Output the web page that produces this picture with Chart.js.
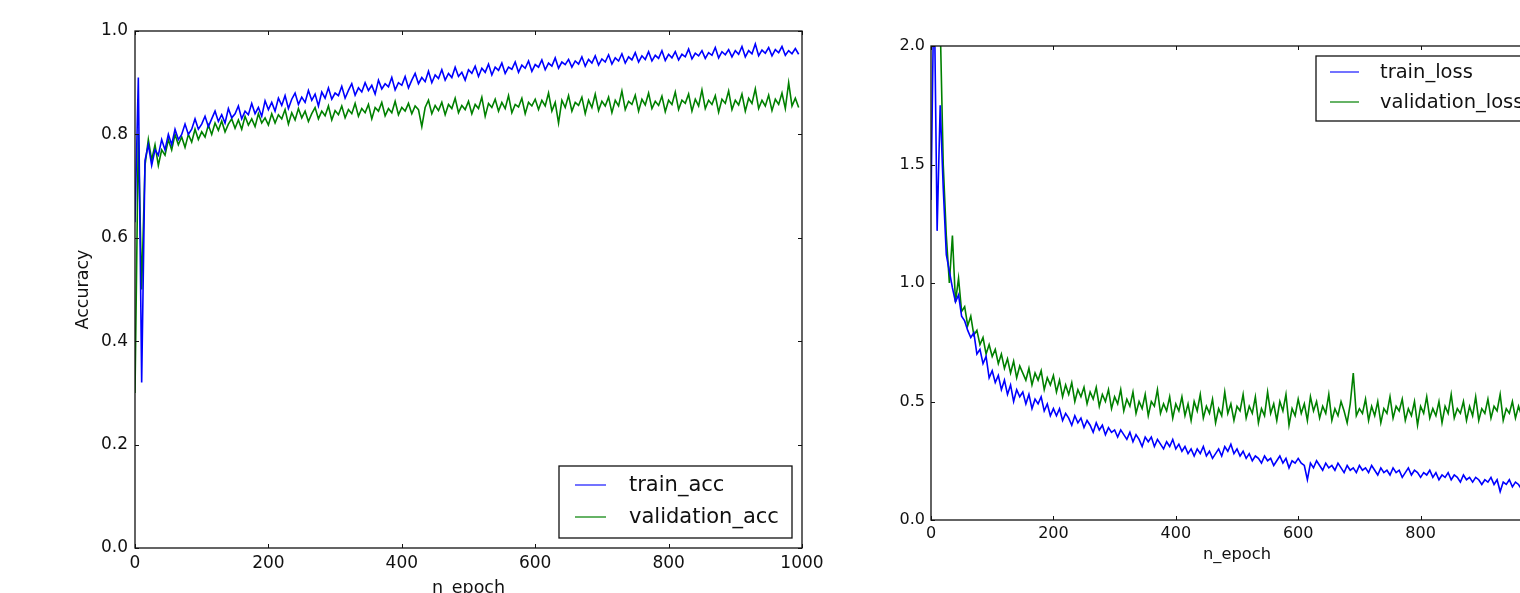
<!DOCTYPE html>
<html>
<head>
<meta charset="utf-8">
<script src="https://cdn.jsdelivr.net/npm/chart.js@4.4.0/dist/chart.umd.min.js"></script>
<style>
  html, body { margin: 0; padding: 0; background: #fff; width: 1520px; height: 593px; overflow: hidden; }
  canvas { position: absolute; top: 0; }
  #accChart { left: 0; }
  #lossChart { left: 860px; }
</style>
</head>
<body>
<canvas id="accChart" width="860" height="610"></canvas>
<canvas id="lossChart" width="740" height="610"></canvas>
<script>
// one value every 5 epochs
var EPOCH_STEP = 5;

var TRAIN_ACC = [
  0.63,0.91,0.32,0.75,0.78,0.74,0.77,0.76,0.79,0.77,
  0.80,0.78,0.81,0.79,0.80,0.82,0.80,0.81,0.83,0.81,
  0.82,0.835,0.815,0.83,0.845,0.825,0.838,0.822,0.85,0.832,
  0.84,0.855,0.83,0.845,0.838,0.86,0.84,0.852,0.835,0.865,
  0.848,0.862,0.845,0.87,0.856,0.875,0.85,0.868,0.88,0.858,
  0.872,0.862,0.885,0.866,0.878,0.855,0.882,0.87,0.89,0.868,
  0.88,0.875,0.893,0.87,0.885,0.898,0.876,0.89,0.882,0.9,
  0.885,0.895,0.878,0.905,0.888,0.898,0.892,0.91,0.886,0.9,
  0.895,0.912,0.89,0.905,0.918,0.898,0.91,0.902,0.922,0.9,
  0.915,0.908,0.925,0.905,0.918,0.91,0.93,0.912,0.92,0.905,
  0.925,0.918,0.932,0.912,0.928,0.92,0.936,0.915,0.93,0.924,
  0.938,0.918,0.93,0.926,0.94,0.92,0.934,0.928,0.942,0.922,
  0.935,0.93,0.944,0.925,0.938,0.932,0.948,0.928,0.94,0.935,
  0.945,0.93,0.942,0.936,0.95,0.932,0.945,0.938,0.952,0.934,
  0.946,0.94,0.954,0.936,0.948,0.942,0.956,0.938,0.95,0.944,
  0.958,0.94,0.952,0.945,0.96,0.942,0.953,0.947,0.962,0.943,
  0.955,0.948,0.96,0.944,0.955,0.95,0.965,0.946,0.957,0.952,
  0.962,0.947,0.958,0.953,0.968,0.948,0.96,0.954,0.964,0.95,
  0.962,0.955,0.97,0.95,0.962,0.956,0.975,0.952,0.963,0.957,
  0.968,0.952,0.964,0.958,0.97,0.953,0.962,0.956,0.966,0.955
];

var VAL_ACC = [
  0.30,0.80,0.50,0.74,0.79,0.75,0.78,0.74,0.77,0.76,
  0.79,0.77,0.80,0.78,0.795,0.775,0.80,0.785,0.81,0.79,
  0.805,0.795,0.818,0.80,0.822,0.808,0.826,0.805,0.82,0.83,
  0.812,0.828,0.81,0.835,0.818,0.83,0.815,0.84,0.822,0.832,
  0.818,0.84,0.822,0.838,0.83,0.848,0.82,0.842,0.828,0.85,
  0.832,0.845,0.825,0.84,0.852,0.83,0.845,0.836,0.855,0.828,
  0.846,0.838,0.855,0.832,0.848,0.84,0.86,0.835,0.85,0.842,
  0.858,0.83,0.852,0.845,0.862,0.836,0.85,0.842,0.864,0.838,
  0.852,0.845,0.86,0.84,0.855,0.848,0.815,0.852,0.866,0.84,
  0.856,0.846,0.862,0.838,0.858,0.85,0.87,0.842,0.856,0.848,
  0.864,0.84,0.858,0.85,0.872,0.835,0.86,0.852,0.868,0.845,
  0.862,0.85,0.875,0.842,0.858,0.853,0.87,0.84,0.862,0.855,
  0.868,0.848,0.866,0.855,0.88,0.845,0.862,0.822,0.866,0.852,
  0.875,0.845,0.862,0.856,0.872,0.84,0.866,0.852,0.878,0.846,
  0.864,0.855,0.872,0.842,0.866,0.855,0.884,0.848,0.864,0.858,
  0.876,0.845,0.868,0.857,0.88,0.85,0.864,0.856,0.874,0.844,
  0.866,0.858,0.882,0.848,0.866,0.86,0.878,0.845,0.868,0.855,
  0.886,0.85,0.866,0.858,0.875,0.843,0.868,0.86,0.884,0.848,
  0.866,0.857,0.878,0.845,0.87,0.86,0.888,0.85,0.866,0.855,
  0.876,0.846,0.868,0.858,0.88,0.85,0.9,0.855,0.87,0.852
];

var TRAIN_LOSS = [
  1.35,2.3,1.22,1.75,1.4,1.12,1.05,0.98,0.92,0.95,
  0.86,0.84,0.8,0.77,0.79,0.7,0.72,0.66,0.69,0.6,
  0.63,0.58,0.61,0.55,0.59,0.53,0.57,0.5,0.55,0.52,
  0.54,0.49,0.53,0.47,0.51,0.49,0.52,0.46,0.49,0.44,
  0.47,0.44,0.47,0.42,0.45,0.43,0.4,0.44,0.41,0.43,
  0.39,0.42,0.4,0.37,0.41,0.38,0.4,0.36,0.39,0.37,
  0.38,0.35,0.38,0.36,0.34,0.37,0.33,0.36,0.34,0.31,
  0.35,0.33,0.35,0.31,0.34,0.32,0.3,0.33,0.31,0.34,
  0.3,0.32,0.29,0.31,0.28,0.3,0.27,0.3,0.28,0.31,
  0.27,0.29,0.26,0.28,0.3,0.27,0.31,0.29,0.32,0.28,
  0.3,0.27,0.29,0.26,0.28,0.25,0.27,0.26,0.24,0.27,
  0.25,0.26,0.23,0.25,0.27,0.24,0.26,0.22,0.25,0.24,
  0.26,0.24,0.23,0.17,0.24,0.22,0.25,0.23,0.21,0.24,
  0.22,0.23,0.21,0.24,0.22,0.2,0.23,0.21,0.22,0.2,
  0.23,0.21,0.22,0.2,0.23,0.21,0.19,0.22,0.2,0.21,
  0.19,0.22,0.2,0.21,0.18,0.2,0.22,0.19,0.21,0.2,
  0.18,0.2,0.19,0.21,0.18,0.2,0.17,0.19,0.18,0.2,
  0.17,0.19,0.18,0.16,0.19,0.17,0.18,0.16,0.18,0.17,
  0.15,0.17,0.16,0.18,0.15,0.17,0.12,0.16,0.15,0.17,
  0.14,0.16,0.15,0.13,0.16,0.14,0.15,0.13,0.15,0.14
];

var VAL_LOSS = [
  2.6,2.5,2.3,2.1,1.5,1.2,1.0,1.2,0.92,1.02,
  0.88,0.9,0.82,0.86,0.78,0.8,0.74,0.77,0.7,0.74,
  0.69,0.72,0.66,0.7,0.64,0.68,0.62,0.67,0.6,0.65,
  0.62,0.59,0.64,0.57,0.62,0.59,0.63,0.55,0.6,0.57,
  0.61,0.54,0.59,0.52,0.57,0.53,0.58,0.5,0.55,0.52,
  0.56,0.49,0.54,0.51,0.56,0.48,0.53,0.5,0.55,0.47,
  0.52,0.49,0.55,0.46,0.51,0.48,0.54,0.45,0.5,0.47,
  0.53,0.44,0.5,0.48,0.55,0.45,0.49,0.46,0.52,0.43,
  0.49,0.46,0.52,0.44,0.49,0.42,0.5,0.46,0.53,0.43,
  0.48,0.45,0.51,0.41,0.47,0.44,0.54,0.45,0.49,0.42,
  0.48,0.46,0.53,0.43,0.48,0.45,0.52,0.41,0.47,0.44,
  0.54,0.45,0.49,0.42,0.5,0.46,0.53,0.4,0.47,0.44,
  0.51,0.45,0.49,0.42,0.52,0.46,0.5,0.43,0.48,0.45,
  0.53,0.42,0.47,0.44,0.5,0.46,0.41,0.49,0.62,0.44,
  0.47,0.45,0.51,0.42,0.48,0.44,0.5,0.41,0.47,0.45,
  0.52,0.43,0.48,0.46,0.51,0.42,0.47,0.44,0.5,0.4,
  0.48,0.45,0.52,0.43,0.47,0.44,0.5,0.41,0.48,0.45,
  0.53,0.43,0.47,0.45,0.5,0.42,0.48,0.44,0.52,0.42,
  0.47,0.45,0.51,0.43,0.48,0.46,0.53,0.42,0.47,0.45,
  0.5,0.43,0.48,0.44,0.51,0.42,0.47,0.45,0.5,0.43
];

var EPOCH_TICKS = [0, 200, 400, 600, 800, 1000];
var ACC_TICKS = [0, 0.2, 0.4, 0.6, 0.8, 1.0];
var LOSS_TICKS = [0, 0.5, 1.0, 1.5, 2.0];

var EPOCHS = TRAIN_ACC.map(function (v, i) { return i * EPOCH_STEP; });

function points(values) {
  return values.map(function (v, i) { return { x: EPOCHS[i], y: v }; });
}

// matplotlib style frame with inward ticks on all four sides
var frameTicks = {
  id: 'frameTicks',
  afterDatasetsDraw: function (chart) {
    var ctx = chart.ctx, a = chart.chartArea, x = chart.scales.x, y = chart.scales.y;
    ctx.save();
    ctx.strokeStyle = '#111';
    ctx.lineWidth = 1;
    ctx.beginPath();
    x.ticks.forEach(function (t) {
      var px = Math.round(x.getPixelForValue(t.value)) + 0.5;
      ctx.moveTo(px, a.bottom); ctx.lineTo(px, a.bottom - 4);
      ctx.moveTo(px, a.top); ctx.lineTo(px, a.top + 4);
    });
    y.ticks.forEach(function (t) {
      var py = Math.round(y.getPixelForValue(t.value)) + 0.5;
      ctx.moveTo(a.left, py); ctx.lineTo(a.left + 4, py);
      ctx.moveTo(a.right, py); ctx.lineTo(a.right - 4, py);
    });
    ctx.stroke();
    ctx.lineWidth = 1.3;
    ctx.strokeRect(a.left, a.top, a.right - a.left, a.bottom - a.top);
    ctx.restore();
  }
};

// boxed legend with line handles
var boxLegend = {
  id: 'boxLegend',
  afterDraw: function (chart, args, o) {
    var ctx = chart.ctx, a = chart.chartArea;
    var left = a.right - o.right - o.width;
    var top = o.corner === 'bottom' ? a.bottom - o.bottom - o.height : a.top + o.top;
    ctx.save();
    ctx.fillStyle = '#fff';
    ctx.fillRect(left, top, o.width, o.height);
    ctx.strokeStyle = '#111';
    ctx.lineWidth = 1.3;
    ctx.strokeRect(left, top, o.width, o.height);
    ctx.font = o.fontSize + 'px "DejaVu Sans"';
    ctx.textBaseline = 'middle';
    chart.data.datasets.forEach(function (ds, i) {
      var yy = top + o.rows[i];
      ctx.strokeStyle = o.handleColors[i];
      ctx.lineWidth = 2;
      ctx.beginPath();
      ctx.moveTo(left + o.lineFrom, yy);
      ctx.lineTo(left + o.lineTo, yy);
      ctx.stroke();
      ctx.fillStyle = '#111';
      ctx.fillText(ds.label, left + o.textX, yy + 1);
    });
    ctx.restore();
  }
};

function makeChart(id, cfg) {
  return new Chart(document.getElementById(id), {
    type: 'line',
    data: {
      datasets: [
        { label: cfg.labels[0], data: points(cfg.series[0]), borderColor: '#0000ff', borderWidth: 1.6 },
        { label: cfg.labels[1], data: points(cfg.series[1]), borderColor: '#008000', borderWidth: 1.6 }
      ]
    },
    options: {
      responsive: false,
      animation: false,
      devicePixelRatio: 1,
      elements: { point: { radius: 0 }, line: { tension: 0 } },
      layout: { padding: cfg.padding },
      plugins: { legend: { display: false }, tooltip: { enabled: false }, boxLegend: cfg.legend },
      scales: {
        x: {
          type: 'linear', min: 0, max: 1000,
          afterBuildTicks: function (s) { s.ticks = EPOCH_TICKS.map(function (v) { return { value: v }; }); },
          afterFit: function (s) { s.height = cfg.xHeight; },
          grid: { display: false, drawTicks: false },
          border: { display: false },
          ticks: { padding: cfg.xPad, color: '#111', maxRotation: 0, font: { family: 'DejaVu Sans', size: cfg.tickSize },
                   callback: function (v) { return String(v); } },
          title: { display: true, text: 'n_epoch', color: '#111', font: { family: 'DejaVu Sans', size: cfg.titleSize },
                   padding: { top: 0, bottom: cfg.xTitlePad } }
        },
        y: {
          min: 0, max: cfg.yMax,
          afterBuildTicks: function (s) { s.ticks = cfg.yTicks.map(function (v) { return { value: v }; }); },
          afterFit: function (s) { s.width = cfg.yWidth; },
          grid: { display: false, drawTicks: false },
          border: { display: false },
          ticks: { padding: cfg.yPad, color: '#111', font: { family: 'DejaVu Sans', size: cfg.tickSize },
                   callback: function (v) { return v.toFixed(1); } },
          title: { display: !!cfg.yTitle, text: cfg.yTitle || '', color: '#111', font: { family: 'DejaVu Sans', size: cfg.titleSize },
                   padding: { top: cfg.yTitlePad, bottom: 0 } }
        }
      }
    },
    plugins: [frameTicks, boxLegend]
  });
}

makeChart('accChart', {
  labels: ['train_acc', 'validation_acc'],
  series: [TRAIN_ACC, VAL_ACC],
  yMax: 1, yTicks: ACC_TICKS, yTitle: 'Accuracy',
  padding: { left: 0, top: 31, right: 58, bottom: 0 },
  yWidth: 135, xHeight: 62,
  tickSize: 17, titleSize: 17.5,
  xPad: 5, yPad: 7, xTitlePad: 11, yTitlePad: 73,
  legend: { corner: 'bottom', right: 10, bottom: 10, width: 233, height: 72,
            rows: [19, 51], lineFrom: 16, lineTo: 47, textX: 70, fontSize: 21,
            handleColors: ['rgba(0,0,255,0.55)', 'rgba(0,128,0,0.6)'] }
});

makeChart('lossChart', {
  labels: ['train_loss', 'validation_loss'],
  series: [TRAIN_LOSS, VAL_LOSS],
  yMax: 2, yTicks: LOSS_TICKS, yTitle: null,
  padding: { left: 0, top: 46, right: 57, bottom: 0 },
  yWidth: 71, xHeight: 90,
  tickSize: 16, titleSize: 16.3,
  xPad: 4, yPad: 6, xTitlePad: 45, yTitlePad: 0,
  legend: { corner: 'top', right: 10, top: 10, width: 217, height: 65,
            rows: [16, 46], lineFrom: 14, lineTo: 43, textX: 64, fontSize: 19.5,
            handleColors: ['rgba(0,0,255,0.55)', 'rgba(0,128,0,0.6)'] }
});
</script>
</body>
</html>
